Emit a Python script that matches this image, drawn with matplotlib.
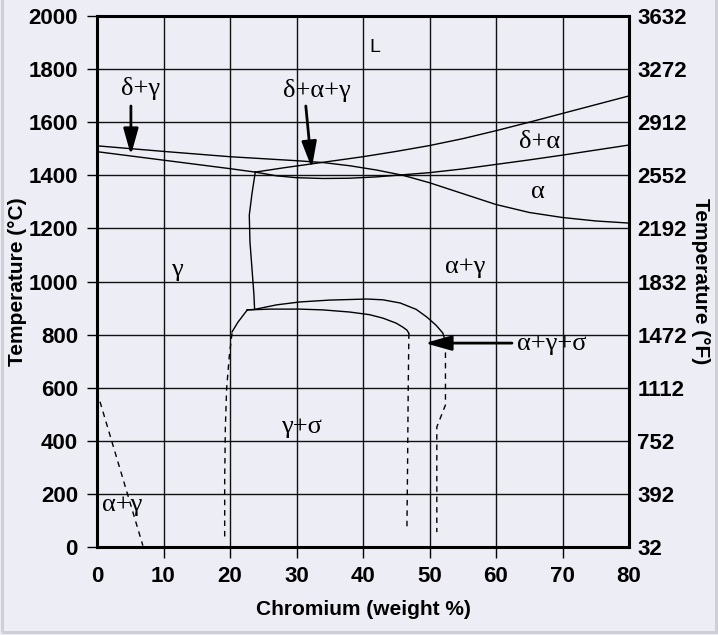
import numpy as np
import matplotlib.pyplot as plt
from matplotlib.patches import Rectangle

# Diagrama de fases Fe-Cr
temp_c_ticks = [0, 200, 400, 600, 800, 1000, 1200, 1400, 1600, 1800, 2000]
temp_f_labels = ['32', '392', '752', '1112', '1472', '1832', '2192', '2552', '2912', '3272', '3632']
cr_ticks = [0, 10, 20, 30, 40, 50, 60, 70, 80]

# linea superior izquierda -> frontera alfa / alfa+gamma
line1_x = [0, 10, 20, 26, 30, 34, 38, 42, 46, 50, 55, 60, 65, 70, 75, 80]
line1_t = [1511, 1490, 1470, 1461, 1455, 1448, 1436, 1420, 1400, 1372, 1331, 1290, 1260, 1241, 1228, 1220]
# linea inferior izquierda hasta el punto peritectico
line2_x = [0, 10, 20, 23.8]
line2_t = [1489, 1457, 1425, 1412]
# linea que sube desde el peritectico hasta la derecha
line3_x = [23.8, 28, 34, 40, 45, 50, 55, 60, 65, 70, 75, 80]
line3_t = [1412, 1428, 1449, 1470, 1490, 1512, 1538, 1568, 1600, 1633, 1666, 1699]
# frontera delta+alfa / alfa
line4_x = [23.8, 27, 30, 34, 38, 42, 46, 50, 55, 60, 65, 70, 75, 80]
line4_t = [1412, 1398, 1391, 1388, 1389, 1394, 1402, 1410, 1424, 1441, 1458, 1476, 1495, 1514]
# frontera gamma / alfa+gamma (casi vertical)
line5_x = [23.8, 23.3, 22.9, 23.0, 23.3, 23.6, 23.7]
line5_t = [1412, 1330, 1250, 1150, 1050, 950, 895]
# curva exterior sigma
line6_x = [22.6, 23.7, 27, 30.5, 35, 40.6, 43, 45.6, 48, 49.6, 51, 52, 52.4]
line6_t = [893, 895, 912, 923, 930, 934, 931, 919, 895, 866, 835, 806, 772]
# curva interior sigma
line7_x = [22.6, 26, 30.5, 34, 38, 41, 43, 45, 46, 46.6, 46.9]
line7_t = [893, 896, 896, 893, 885, 875, 862, 843, 828, 817, 805]
# tramo izquierdo corto
line8_x = [22.6, 21.9, 21.2, 20.3]
line8_t = [893, 870, 847, 810]

# lineas discontinuas
dash1_x = [20.3, 19.9, 19.5, 19.3, 19.2, 19.2]
dash1_t = [805, 720, 600, 450, 250, 30]
dash2_x = [46.9, 46.8, 46.7, 46.6]
dash2_t = [805, 600, 300, 60]
dash3_x = [52.4, 52.4, 52.4, 51.1, 51.1]
dash3_t = [772, 640, 535, 452, 56]
dash4_x = [0, 6.9]
dash4_t = [585, 5]

bg = '#ededf5'
fig = plt.figure(figsize=(7.18, 6.35), dpi=100, facecolor=bg)
ax = fig.add_axes([97/718, 1 - 547/635, 532/718, 531/635])
ax.set_facecolor(bg)

solid = [(line1_x, line1_t), (line2_x, line2_t), (line3_x, line3_t), (line4_x, line4_t),
         (line5_x, line5_t), (line6_x, line6_t), (line7_x, line7_t), (line8_x, line8_t)]
for xs, ts in solid:
    ax.plot(xs, ts, color='black', lw=1.0, zorder=3)

dashed = [(dash1_x, dash1_t), (dash2_x, dash2_t), (dash3_x, dash3_t), (dash4_x, dash4_t)]
for xs, ts in dashed:
    ax.plot(xs, ts, color='black', lw=1.0, ls=(0, (4, 3.5)), zorder=3)

ax.set_xlim(0, 80)
ax.set_ylim(0, 2000)
ax.set_xticks(cr_ticks)
ax.set_yticks(temp_c_ticks)
ax.grid(True, color='#111111', lw=1.0, zorder=1)
ax.set_axisbelow(True)

tick_font = dict(family=['Liberation Sans Narrow', 'Liberation Sans', 'DejaVu Sans'], weight='bold', size=16)
label_font = dict(family=['Liberation Sans', 'DejaVu Sans'], weight='bold', size=15)
ax.set_xticklabels([str(v) for v in cr_ticks], **tick_font)
ax.set_yticklabels([str(v) for v in temp_c_ticks], **tick_font)
ax.tick_params(axis='y', length=7.2, width=1.0, pad=6.5, direction='out')
ax.tick_params(axis='x', length=8, width=1.0, pad=6, direction='out')
for t in (ax.xaxis.get_major_ticks()[0], ax.xaxis.get_major_ticks()[-1],
          ax.yaxis.get_major_ticks()[0], ax.yaxis.get_major_ticks()[-1]):
    t.tick1line.set_visible(False)

for s in ax.spines.values():
    s.set_linewidth(2.2)
    s.set_zorder(5)

ax.set_xlabel('Chromium (weight %)', labelpad=9, **label_font)
ax.set_ylabel('Temperature (°C)', va='center', **label_font)
ax.yaxis.set_label_coords(-0.1485, 0.5)

ax2 = ax.twinx()
ax2.set_ylim(0, 2000)
ax2.set_yticks(temp_c_ticks)
ax2.set_yticklabels(temp_f_labels, **tick_font)
ax2.tick_params(axis='y', length=0, pad=6)
for s in ax2.spines.values():
    s.set_visible(False)
ax2.set_ylabel('Temperature (°F)', rotation=270, va='center', **label_font)
ax2.yaxis.set_label_coords(1.1353, 0.5)

# etiquetas de las fases
greek = dict(family=['Liberation Serif', 'DejaVu Serif'], size=19, ha='center', va='center', zorder=4)
ax.text(41.8, 1883, 'L', family=['Liberation Sans', 'DejaVu Sans'], size=14, ha='center', va='center')
ax.text(6.5, 1728, 'δ+γ', **greek)
ax.text(33.1, 1721, 'δ+α+γ', **greek)
ax.text(66.5, 1526, 'δ+α', **greek)
ax.text(66.3, 1337, 'α', **greek)
ax.text(55.3, 1055, 'α+γ', **greek)
ax.text(12.0, 1043, 'γ', **greek)
ax.text(30.8, 452, 'γ+σ', **greek)
ax.text(3.8, 158, 'α+γ', **greek)
ax.text(68.4, 765, 'α+γ+σ', **greek)

arrow = dict(arrowstyle='-|>,head_length=1.6,head_width=0.45', mutation_scale=10,
             lw=2.0, color='black', shrinkA=0, shrinkB=0)
ax.annotate('', xy=(5.1, 1476), xytext=(5.1, 1661), arrowprops=arrow, zorder=4)
ax.annotate('', xy=(32.3, 1427), xytext=(31.4, 1661), arrowprops=arrow, zorder=4)
ax.annotate('', xy=(49.3, 768), xytext=(62.4, 768), arrowprops=arrow, zorder=4)

# marco gris de la figura
fig.patches.append(Rectangle((1.5/718, 3/635), 714/718, 1.2, transform=fig.transFigure,
                             fill=False, edgecolor='#cfcfd5', lw=2.2))

fig.savefig('out.png', dpi=100, facecolor=bg)
